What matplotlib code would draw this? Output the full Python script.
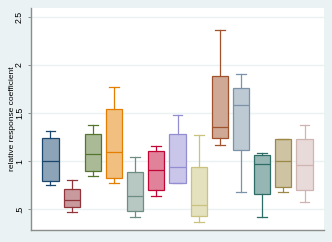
import matplotlib
matplotlib.use("Agg")
import matplotlib.pyplot as plt
import numpy as np

# data
whis_hi = [1.316, 0.804, 1.379, 1.767, 1.040, 1.154, 1.479, 1.275, 2.365, 1.905, 1.085, 1.233, 1.372]
q3      = [1.243, 0.714, 1.285, 1.538, 0.884, 1.105, 1.285, 0.936, 1.881, 1.756, 1.061, 1.227, 1.230]
medians = [0.998, 0.600, 1.074, 1.092, 0.635, 0.908, 0.936, 0.545, 1.352, 1.583, 0.974, 0.998, 0.960]
q1      = [0.791, 0.521, 0.901, 0.822, 0.479, 0.697, 0.773, 0.427, 1.237, 1.116, 0.662, 0.728, 0.700]
whis_lo = [0.749, 0.469, 0.843, 0.770, 0.417, 0.635, 0.770, 0.368, 1.171, 0.677, 0.417, 0.677, 0.573]
ytick_vals = [0.5, 1, 1.5, 2, 2.5]
ytick_labels = [".5", "1", "1.5", "2", "2.5"]
ylabel = "relative response coefficient"

colors_rgb = [(26, 71, 111), (144, 53, 59), (85, 117, 47), (227, 126, 0), (110, 142, 132),
              (193, 5, 52), (147, 141, 210), (202, 194, 126), (160, 82, 45), (123, 146, 168),
              (45, 109, 102), (156, 136, 71), (208, 180, 178)]
colors = [tuple(c / 255 for c in rgb) for rgb in colors_rgb]

bg = "#EAF2F3"
W, H = 332, 242
fig = plt.figure(figsize=(W / 100, H / 100), dpi=100, facecolor=bg)
ax = fig.add_axes([31 / W, (H - 230) / H, (324 - 31) / W, (230 - 8) / H])
ax.set_facecolor("white")

stats = []
for i in range(len(medians)):
    stats.append(dict(med=medians[i], q1=q1[i], q3=q3[i], whislo=whis_lo[i], whishi=whis_hi[i], fliers=[]))

positions = np.arange(1, len(stats) + 1)
bp = ax.bxp(stats, positions=positions, widths=0.76, capwidths=0.47, patch_artist=True,
            showfliers=False, manage_ticks=False)
for i, c in enumerate(colors):
    fill = tuple(0.5 * v + 0.5 for v in c)
    bp["boxes"][i].set_facecolor(fill)
    bp["boxes"][i].set_edgecolor(c)
    bp["boxes"][i].set_linewidth(0.9)
    bp["medians"][i].set_color(c)
    bp["medians"][i].set_linewidth(0.9)
    for w in bp["whiskers"][2 * i:2 * i + 2]:
        w.set_color(c)
        w.set_linewidth(0.9)
    for cp in bp["caps"][2 * i:2 * i + 2]:
        cp.set_color(c)
        cp.set_linewidth(0.9)

ax.set_xlim(0.08, 13.92)
ax.set_ylim(0.285, 2.59)
ax.set_yticks(ytick_vals)
ax.set_yticklabels(ytick_labels, rotation=90, va="center", fontsize=6.3, family="Liberation Sans")
ax.set_xticks([])
ax.yaxis.grid(True, color=bg, linewidth=1.0)
ax.set_axisbelow(True)
ax.tick_params(axis="y", length=2, width=0.7, color="#8c8c8c", pad=3)
for s in ["top", "right"]:
    ax.spines[s].set_visible(False)
for s in ["left", "bottom"]:
    ax.spines[s].set_color("#8c8c8c")
    ax.spines[s].set_linewidth(1.0)
ax.set_ylabel(ylabel, fontsize=6, family="Liberation Sans", va="center")
ax.yaxis.set_label_coords((13 - 31) / (324 - 31), 0.5)

fig.savefig("out.png", dpi=100, facecolor=bg)
